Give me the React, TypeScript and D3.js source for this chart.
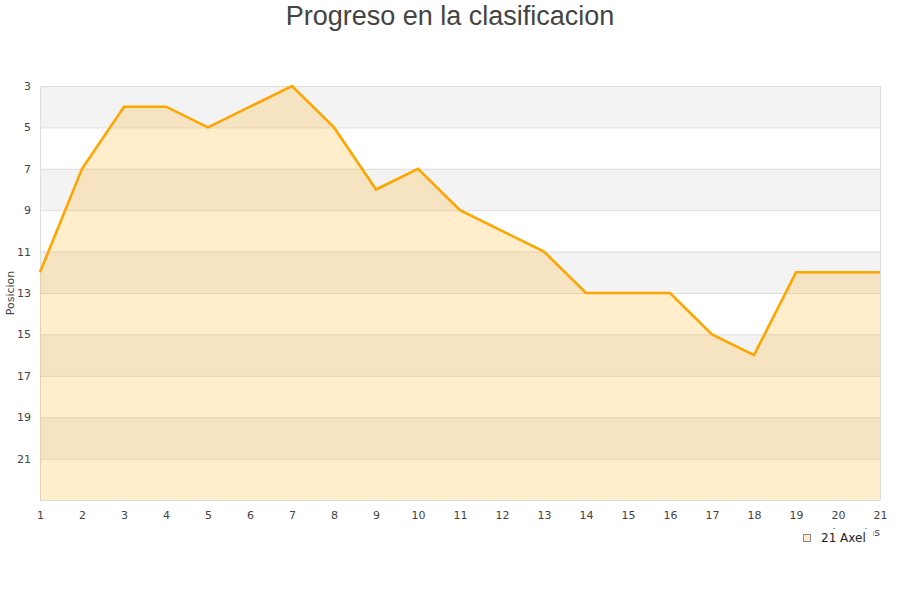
import * as d3 from 'd3';
import { useEffect, useRef } from 'react';

const jornadas = [1, 2, 3, 4, 5, 6, 7, 8, 9, 10, 11, 12, 13, 14, 15, 16, 17, 18, 19, 20, 21];
const posiciones = [12, 7, 4, 4, 5, 4, 3, 5, 8, 7, 9, 10, 11, 13, 13, 13, 15, 16, 12, 12, 12];
const yTicks = [3, 5, 7, 9, 11, 13, 15, 17, 19, 21];
const serieNombre = '21 Axel';

const App = () => {
    const ref = useRef<SVGSVGElement | null>(null);

    useEffect(() => {
        const width = 900;
        const height = 600;
        const margin = { top: 86, right: 20, bottom: 100, left: 40 };
        const w = width - margin.left - margin.right;
        const h = height - margin.top - margin.bottom;

        const root = d3.select(ref.current);
        root.selectAll('*').remove();

        const font = "'DejaVu Sans', sans-serif";

        // title
        root.append('text')
            .attr('x', width / 2)
            .attr('y', 25)
            .attr('text-anchor', 'middle')
            .style('font-family', "'Liberation Sans', Arial, sans-serif")
            .style('font-size', '27px')
            .style('fill', '#444')
            .text('Progreso en la clasificacion');

        const svg = root.append('g')
            .attr('transform', `translate(${margin.left},${margin.top})`);

        const x = d3.scaleLinear().domain([1, 21]).range([0, w]);
        const y = d3.scaleLinear().domain([3, 23]).range([0, h]);

        // alternating bands
        yTicks.forEach((t, i) => {
            svg.append('rect')
                .attr('x', 0)
                .attr('y', y(t))
                .attr('width', w)
                .attr('height', y(t + 2) - y(t))
                .attr('fill', i % 2 === 0 ? '#f3f3f3' : '#ffffff');
        });

        // grid lines
        svg.append('g').selectAll('line')
            .data([...yTicks, 23])
            .join('line')
            .attr('x1', 0)
            .attr('x2', w)
            .attr('y1', d => y(d) + 0.5)
            .attr('y2', d => y(d) + 0.5)
            .attr('stroke', '#dddddd');

        svg.append('line').attr('x1', 0.5).attr('x2', 0.5).attr('y1', 0).attr('y2', h).attr('stroke', '#dddddd');
        svg.append('line').attr('x1', w + 0.5).attr('x2', w + 0.5).attr('y1', 0).attr('y2', h).attr('stroke', '#dddddd');

        const data = jornadas.map((j, i) => ({ j, p: posiciones[i] }));

        const area = d3.area<{ j: number; p: number }>()
            .x(d => x(d.j))
            .y0(h)
            .y1(d => y(d.p));

        const line = d3.line<{ j: number; p: number }>()
            .x(d => x(d.j))
            .y(d => y(d.p));

        svg.append('path')
            .datum(data)
            .attr('fill', '#ffa500')
            .attr('fill-opacity', 0.2)
            .attr('d', area);

        svg.append('path')
            .datum(data)
            .attr('fill', 'none')
            .attr('stroke', '#ffa500')
            .attr('stroke-width', 2.6)
            .attr('d', line);

        // axes
        const xAxis = svg.append('g')
            .attr('transform', `translate(0,${h})`)
            .call(d3.axisBottom(x).tickValues(jornadas).tickSize(0).tickPadding(11).tickFormat(d3.format('d')));
        xAxis.select('.domain').remove();
        xAxis.selectAll('text').style('font-family', font).style('font-size', '11px').style('fill', '#444');

        const yAxis = svg.append('g')
            .call(d3.axisLeft(y).tickValues(yTicks).tickSize(0).tickPadding(9).tickFormat(d3.format('d')));
        yAxis.select('.domain').remove();
        yAxis.selectAll('text').style('font-family', font).style('font-size', '11px').style('fill', '#444');

        // axis titles
        root.append('text')
            .attr('transform', `translate(14,${margin.top + y(13)}) rotate(-90)`)
            .attr('text-anchor', 'middle')
            .style('font-family', font)
            .style('font-size', '11px')
            .style('fill', '#444')
            .text('Posicion');

        root.append('text')
            .attr('x', margin.left + w)
            .attr('y', 536)
            .attr('text-anchor', 'end')
            .style('font-family', font)
            .style('font-size', '11px')
            .style('fill', '#444')
            .text('Jornadas');

        // legend (covers most of the x-axis title, as in the original)
        const legend = root.append('g').attr('transform', 'translate(795,529)');
        legend.append('rect').attr('width', 78).attr('height', 20).attr('fill', '#ffffff');
        legend.append('rect')
            .attr('x', 8.5).attr('y', 5.5).attr('width', 7).attr('height', 7)
            .attr('fill', '#fdeccb').attr('stroke', '#888');
        legend.append('text')
            .attr('x', 26).attr('y', 13)
            .style('font-family', font)
            .style('font-size', '12px')
            .style('fill', '#222')
            .text(serieNombre);
    }, []);

    return <svg ref={ref} width={900} height={600} style={{ display: 'block', position: 'absolute', left: 0, top: 0 }} />;
};

export default App;
